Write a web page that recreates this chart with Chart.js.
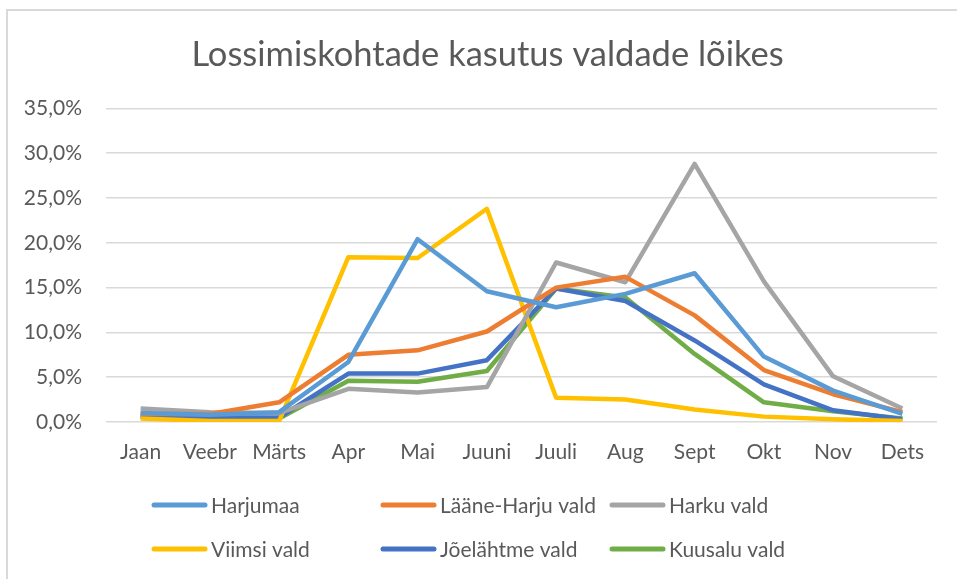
<!DOCTYPE html>
<html>
<head>
<meta charset="utf-8">
<script src="https://cdn.jsdelivr.net/npm/chart.js@4"></script>
<style>
  body { margin: 0; background: #fff; overflow: hidden; }
  #wrap { position: absolute; left: 6px; top: 9px; width: 980px; height: 580px; border-left: 2px solid #d9d9d9; border-top: 2px solid #d9d9d9; }
</style>
</head>
<body>
<div id="wrap"><canvas id="myChart"></canvas></div>
<script>
// months (x axis)
const months = ["Jaan", "Veebr", "Märts", "Apr", "Mai", "Juuni", "Juuli", "Aug", "Sept", "Okt", "Nov", "Dets"];

// share of landings per month, %
const harjumaa = [1.0, 0.8, 1.1, 6.7, 20.4, 14.6, 12.8, 14.3, 16.6, 7.3, 3.5, 0.9];
const laaneHarju = [0.9, 0.9, 2.2, 7.5, 8.0, 10.1, 15.0, 16.2, 11.9, 5.8, 3.1, 1.1];
const harku = [1.5, 1.1, 1.0, 3.7, 3.3, 3.9, 17.8, 15.6, 28.8, 15.7, 5.1, 1.5];
const viimsi = [0.4, 0.1, 0.1, 18.4, 18.3, 23.8, 2.7, 2.5, 1.4, 0.6, 0.3, 0.1];
const joelahtme = [0.6, 0.5, 0.5, 5.4, 5.4, 6.9, 14.9, 13.5, 9.1, 4.2, 1.3, 0.3];
const kuusalu = [0.6, 0.4, 0.4, 4.6, 4.5, 5.7, 14.9, 13.9, 7.6, 2.2, 1.2, 0.4];

const seriesNames = ["Harjumaa", "Lääne-Harju vald", "Harku vald", "Viimsi vald", "Jõelähtme vald", "Kuusalu vald"];
const seriesData = [harjumaa, laaneHarju, harku, viimsi, joelahtme, kuusalu];
const seriesColors = ["#5b9bd5", "#ed7d31", "#a5a5a5", "#ffc000", "#4472c4", "#70ad47"];

const FONT = "Lato, 'Open Sans', sans-serif";
const TEXT = "#595959";

//legend drawn in a 3 column grid like the original
const gridLegend = {
  id: "gridLegend",
  afterLayout(chart) {
    // nudge title centre a bit to the right, like in the original
    if (chart.titleBlock) chart.titleBlock.left += 30;
  },
  afterDraw(chart) {
    const ctx = chart.ctx;
    const cols = [144, 373, 602];
    const rows = [494, 538];
    ctx.save();
    ctx.font = "21px " + FONT;
    ctx.textBaseline = "middle";
    chart.data.datasets.forEach((ds, i) => {
      const x = cols[i % 3];
      const y = rows[Math.floor(i / 3)];
      ctx.strokeStyle = ds.borderColor;
      ctx.lineWidth = 5;
      ctx.lineCap = "round";
      ctx.beginPath();
      ctx.moveTo(x + 2, y);
      ctx.lineTo(x + 53, y);
      ctx.stroke();
      ctx.fillStyle = TEXT;
      ctx.fillText(ds.label, x + 59, y + 1);
    });
    ctx.restore();
  },
};

const data = {
  labels: months,
  datasets: seriesNames.map((name, i) => ({
    label: name,
    data: seriesData[i],
    borderColor: seriesColors[i],
    backgroundColor: seriesColors[i],
    borderWidth: 4.5,
    pointRadius: 0,
    tension: 0,
    borderJoinStyle: "round",
  })),
};

const config = {
  type: "line",
  data,
  options: {
    responsive: false,
    animation: false,
    layout: { padding: { left: 0, right: 40, top: 0, bottom: 112 } },
    plugins: {
      legend: { display: false },
      tooltip: { enabled: false },
      title: {
        display: true,
        text: "Lossimiskohtade kasutus valdade lõikes",
        color: TEXT,
        font: { family: FONT, size: 34.5, weight: "normal" },
        padding: { top: 23, bottom: 33 },
      },
    },
    scales: {
      x: {
        offset: true,
        grid: { display: false },
        border: { display: false },
        ticks: { color: TEXT, font: { family: FONT, size: 21 }, maxRotation: 0, autoSkip: false, padding: 10 },
        afterFit: (s) => { s.height = 45; },
      },
      y: {
        min: 0,
        max: 35,
        grid: { color: "#d9d9d9", lineWidth: 1.5, drawTicks: false },
        border: { display: false },
        ticks: {
          stepSize: 5,
          color: TEXT,
          font: { family: FONT, size: 21 },
          padding: 24,
          callback: (v) => v.toFixed(1).replace(".", ",") + "%",
        },
        afterFit: (s) => { s.width = 98; },
      },
    },
  },
  plugins: [gridLegend],
};

const canvas = document.getElementById("myChart");
canvas.width = 969;
canvas.height = 568;
const myChart = new Chart(canvas, config);
</script>
</body>
</html>
